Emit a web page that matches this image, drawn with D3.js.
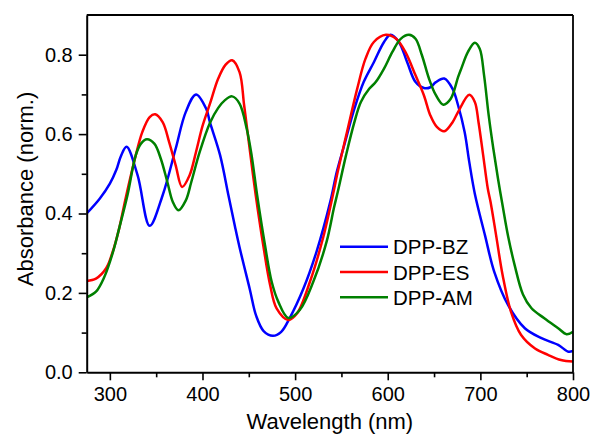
<!DOCTYPE html>
<html>
<head>
<meta charset="utf-8">
<script src="https://cdn.jsdelivr.net/npm/d3@7"></script>
<style>
  html, body { margin: 0; padding: 0; background: #fff; }
  svg { display: block; font-family: "Liberation Sans", Arial, sans-serif; }
</style>
</head>
<body>
<svg id="chart" width="591" height="434"></svg>
<script>
// ---- data ----
const seriesNames = ["DPP-BZ", "DPP-ES", "DPP-AM"];
const seriesColors = ["#0000ff", "#ff0000", "#008000"];

const bzWavelength = [275,289,300,307,312,318,330,343,357,371,382,393,404,408,419,428,435,440,451,458,466,476,485,494,509,523,538,545,553,564,574,585,596,603,612,621,630,639,646,652,661,670,676,683,688,694,705,715,730,748,766,784,795,800];
const bzAbsorbance = [0.400,0.437,0.475,0.510,0.545,0.568,0.496,0.369,0.446,0.563,0.656,0.700,0.664,0.630,0.547,0.446,0.368,0.315,0.210,0.142,0.104,0.092,0.102,0.136,0.211,0.303,0.430,0.505,0.572,0.664,0.731,0.781,0.832,0.850,0.832,0.781,0.731,0.716,0.718,0.731,0.740,0.714,0.672,0.605,0.530,0.450,0.345,0.253,0.169,0.111,0.086,0.069,0.052,0.054];

const esWavelength = [275,285,296,303,310,317,328,335,343,349,357,364,371,378,386,393,400,408,417,425,432,440,445,450,457.5,465.6,473,480,492.6,502,516,530,542,546,556,567,576,585,598,609,619,630,639,646,653,661,670,676,688,694,698,703,708,711,717,724,733,744,759,773,787,800];
const esAbsorbance = [0.230,0.236,0.262,0.303,0.362,0.438,0.547,0.605,0.643,0.650,0.630,0.580,0.522,0.467,0.496,0.555,0.620,0.676,0.740,0.775,0.786,0.756,0.672,0.580,0.446,0.320,0.220,0.161,0.132,0.148,0.228,0.337,0.460,0.505,0.605,0.714,0.790,0.832,0.850,0.840,0.807,0.748,0.698,0.647,0.618,0.607,0.630,0.656,0.699,0.681,0.630,0.547,0.463,0.429,0.345,0.245,0.153,0.094,0.060,0.044,0.031,0.027];

const amWavelength = [275,285,294,303,310,319,328,333.6,340,348,355,362,368,374,382,388,397,408,417,424,432,440,447.7,453,459,467.5,474.7,481.8,492.6,505,519.6,534,542,546,555,564,571,580,587,596,605,614,623,630,637,644.5,652,660,668,676,679.4,686.6,694,699.3,704,709,714,719,724,730,737,746,755,769,784,793,800];
const amAbsorbance = [0.189,0.203,0.240,0.300,0.362,0.446,0.547,0.576,0.587,0.576,0.538,0.480,0.429,0.408,0.433,0.480,0.555,0.628,0.666,0.685,0.695,0.677,0.614,0.547,0.446,0.320,0.228,0.178,0.137,0.157,0.228,0.329,0.415,0.454,0.547,0.630,0.681,0.714,0.731,0.765,0.807,0.840,0.850,0.840,0.798,0.740,0.698,0.674,0.689,0.744,0.765,0.807,0.830,0.815,0.748,0.647,0.563,0.488,0.420,0.342,0.270,0.196,0.162,0.136,0.111,0.096,0.102];

const xMajorTicks = [300, 400, 500, 600, 700, 800];
const xMinorTicks = [350, 450, 550, 650, 750];
const yMajorTicks = [0.0, 0.2, 0.4, 0.6, 0.8];
const yMinorTicks = [0.1, 0.3, 0.5, 0.7];

const xLabel = "Wavelength (nm)";
const yLabel = "Absorbance (norm.)";

// ---- layout ----
const plot = { left: 86.7, right: 573, top: 15, bottom: 372.3 };
const svg = d3.select("#chart");

const x = d3.scaleLinear().domain([275, 800]).range([plot.left, plot.right]);
const y = d3.scaleLinear().domain([0, 0.9]).range([plot.bottom, plot.top]);

const series = [
  { name: seriesNames[0], color: seriesColors[0], xs: bzWavelength, ys: bzAbsorbance },
  { name: seriesNames[1], color: seriesColors[1], xs: esWavelength, ys: esAbsorbance },
  { name: seriesNames[2], color: seriesColors[2], xs: amWavelength, ys: amAbsorbance }
];

const line = d3.line()
  .x(d => x(d[0]))
  .y(d => y(d[1]))
  .curve(d3.curveCatmullRom.alpha(0.5));

svg.append("defs").append("clipPath").attr("id", "clip")
  .append("rect")
  .attr("x", plot.left).attr("y", plot.top)
  .attr("width", plot.right - plot.left).attr("height", plot.bottom - plot.top);

const g = svg.append("g").attr("clip-path", "url(#clip)");
series.forEach(s => {
  const pts = s.xs.map((v, i) => [v, s.ys[i]]);
  g.append("path")
    .datum(pts)
    .attr("fill", "none")
    .attr("stroke", s.color)
    .attr("stroke-width", 2.5)
    .attr("stroke-linejoin", "round")
    .attr("d", line);
});

// frame (top & right)
svg.append("line").attr("x1", plot.left).attr("x2", plot.right).attr("y1", plot.top).attr("y2", plot.top)
  .attr("stroke", "#000").attr("stroke-width", 1.8);
svg.append("line").attr("x1", plot.right).attr("x2", plot.right).attr("y1", plot.top).attr("y2", plot.bottom)
  .attr("stroke", "#000").attr("stroke-width", 1.8);

// axes
function styleAxis(sel) {
  sel.select(".domain").attr("stroke", "#000").attr("stroke-width", 2);
  sel.selectAll(".tick line").attr("stroke", "#000").attr("stroke-width", 1.6);
  sel.selectAll(".tick text").attr("fill", "#000").style("font-size", "20px")
    .style("font-family", "'Liberation Sans', Arial, sans-serif");
}

const xMinor = svg.append("g").attr("transform", `translate(0,${plot.bottom})`)
  .call(d3.axisBottom(x).tickValues(xMinorTicks).tickSize(5).tickSizeOuter(0).tickFormat(""));
xMinor.select(".domain").remove();
xMinor.selectAll(".tick line").attr("stroke", "#000").attr("stroke-width", 1.6);

const xAxis = svg.append("g").attr("transform", `translate(0,${plot.bottom})`)
  .call(d3.axisBottom(x).tickValues(xMajorTicks).tickSize(8).tickSizeOuter(0).tickPadding(7).tickFormat(d3.format("d")));
styleAxis(xAxis);

const yMinor = svg.append("g").attr("transform", `translate(${plot.left},0)`)
  .call(d3.axisLeft(y).tickValues(yMinorTicks).tickSize(5).tickSizeOuter(0).tickFormat(""));
yMinor.select(".domain").remove();
yMinor.selectAll(".tick line").attr("stroke", "#000").attr("stroke-width", 1.6);

const yAxis = svg.append("g").attr("transform", `translate(${plot.left},0)`)
  .call(d3.axisLeft(y).tickValues(yMajorTicks).tickSize(8).tickSizeOuter(0).tickPadding(6).tickFormat(d3.format(".1f")));
styleAxis(yAxis);

// axis titles
svg.append("text")
  .attr("x", (plot.left + plot.right) / 2)
  .attr("y", 429)
  .attr("text-anchor", "middle")
  .style("font-size", "22px")
  .text(xLabel);

svg.append("text")
  .attr("transform", `translate(33,189) rotate(-90)`)
  .attr("text-anchor", "middle")
  .style("font-size", "22px")
  .text(yLabel);

// legend
const legend = svg.append("g");
series.forEach((s, i) => {
  const ly = 246.7 + i * 25.3;
  legend.append("line")
    .attr("x1", 340).attr("x2", 388).attr("y1", ly).attr("y2", ly)
    .attr("stroke", s.color).attr("stroke-width", 2.5);
  legend.append("text")
    .attr("x", 393).attr("y", ly + 7.5)
    .style("font-size", "20.5px")
    .text(s.name);
});
</script>
</body>
</html>
